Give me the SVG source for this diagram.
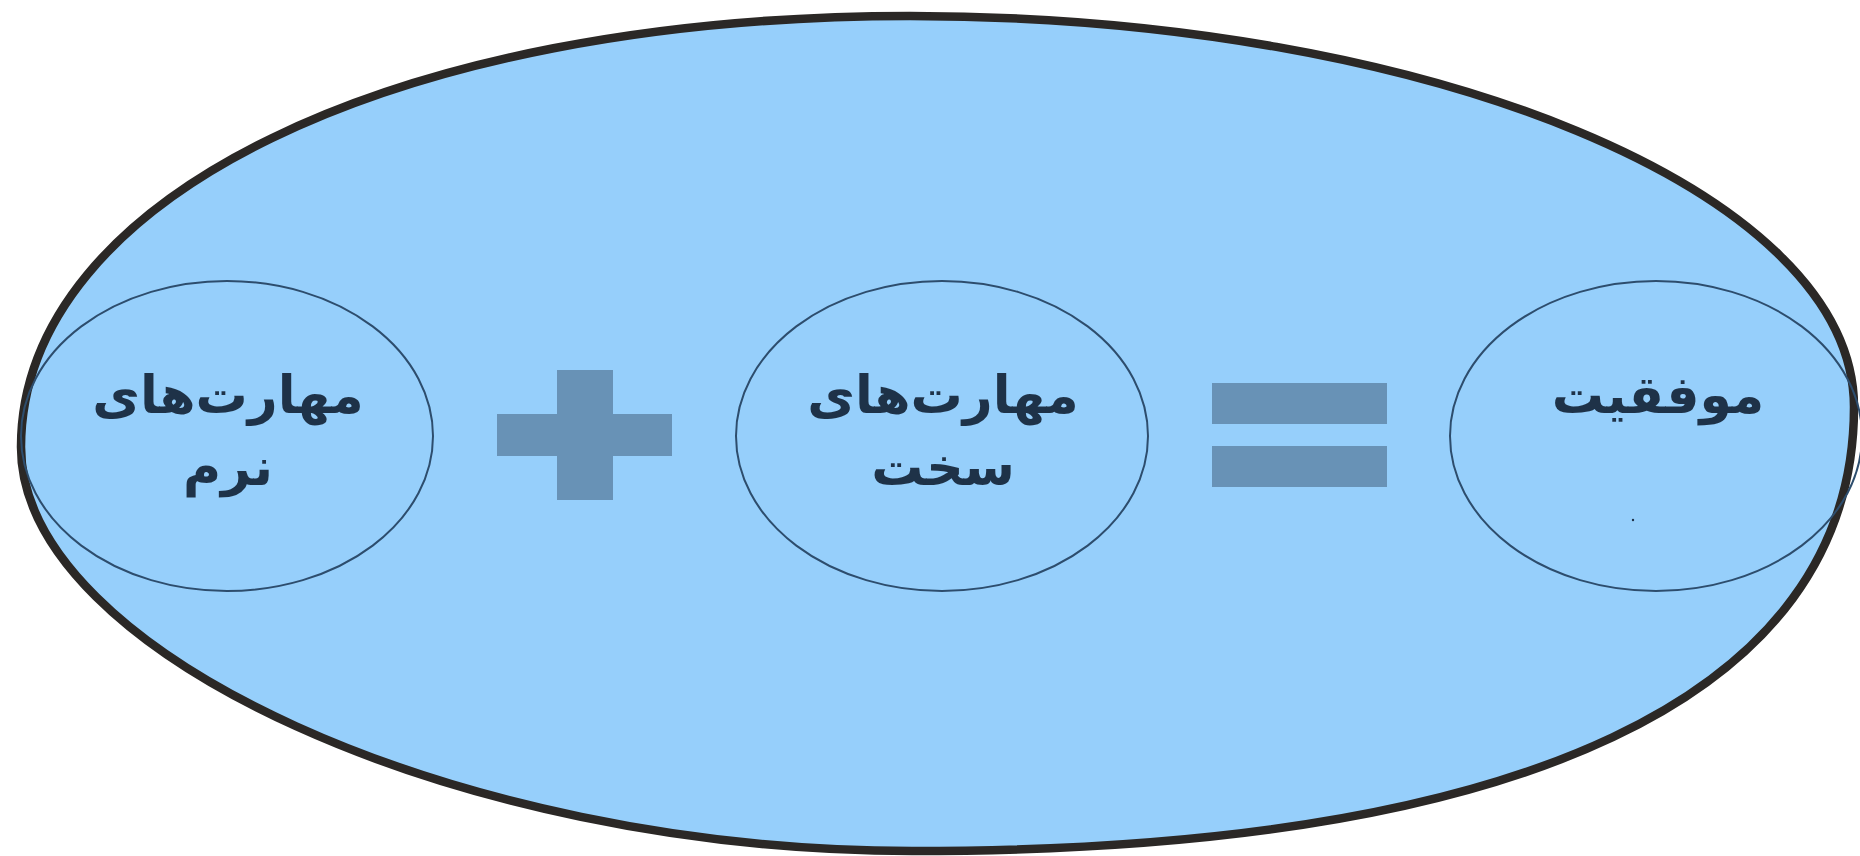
<svg xmlns="http://www.w3.org/2000/svg" width="1860" height="856" viewBox="0 0 1860 856">
<style>
.bg{fill:#ffffff}
.outer{fill:#96cffb;stroke:#2b2826;stroke-width:8.5}
.node{fill:none;stroke:#2d4d6d;stroke-width:2}
.lbl{font-family:"DejaVu Sans","Noto Sans",sans-serif;font-weight:bold;font-size:52px;fill:#1e3248;text-anchor:middle}
.op{fill:#6892b6}
</style>
<rect class="bg" x="0" y="0" width="1860" height="856"/>
<g id="frame">
<path class="outer" d="M21,447 C21,197.6 394.4,16 910,16 C1429.2,16 1854,192 1854,407 C1854,695.6 1524.3,851 912,851 C457.6,851 21,653 21,447 Z"/>
</g>
<g id="soft">
<ellipse class="node" cx="227" cy="436" rx="206" ry="155"/>
<text class="lbl" x="228" y="413" direction="rtl">مهارت&#x200C;های</text>
<text class="lbl" x="228" y="485" direction="rtl">نرم</text>
</g>
<g id="plus">
<rect class="op" x="557" y="370" width="56" height="130"/>
<rect class="op" x="497" y="414" width="175" height="42"/>
</g>
<g id="hard">
<ellipse class="node" cx="942" cy="436" rx="206" ry="155"/>
<text class="lbl" x="943" y="413" direction="rtl">مهارت&#x200C;های</text>
<text class="lbl" x="943" y="485" direction="rtl">سخت</text>
</g>
<g id="equals">
<rect class="op" x="1212" y="383" width="175" height="41"/>
<rect class="op" x="1212" y="446" width="175" height="41"/>
</g>
<g id="success">
<ellipse class="node" cx="1656" cy="436" rx="206" ry="155"/>
<text class="lbl" x="1658" y="413" direction="rtl">موفقیت</text>
<circle cx="1633" cy="520" r="1.2" fill="#1e3248"/>
</g>
<g id="connectors"></g>
</svg>
